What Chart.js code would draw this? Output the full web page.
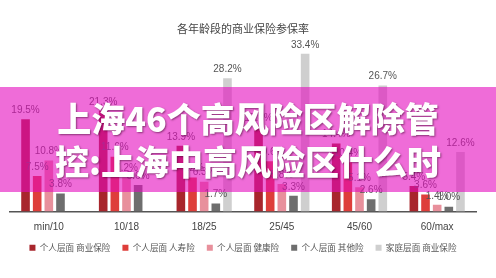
<!DOCTYPE html>
<html>
<head>
<meta charset="utf-8">
<script src="https://cdn.jsdelivr.net/npm/chart.js@4.4.1/dist/chart.umd.min.js"></script>
<style>
    html, body { margin: 0; padding: 0; background: #ffffff; }
    #wrap { position: relative; width: 496px; height: 278px; overflow: hidden; }
    #banner {
        position: absolute; left: 0; top: 87px; width: 496px; height: 105px;
        background: rgba(228, 10, 190, 0.6);
        color: #ffffff; text-align: center;
        font-family: "Noto Sans CJK SC", sans-serif; font-weight: 900;
        font-size: 34px; line-height: 43px; padding-top: 9px; box-sizing: border-box;
        text-shadow: 1px 1px 2px rgba(60, 0, 40, 0.55);
    }
</style>
</head>
<body>
<div id="wrap">
    <canvas id="myChart" width="496" height="278"></canvas>
    <div id="banner">上海46个高风险区解除管<br>控:上海中高风险区什么时</div>
</div>
<script>
window.onload = init;
var chart;

var ageGroups = ['min/10', '10/18', '18/25', '25/45', '45/60', '60/max'];
var seriesNames = ['个人层面 商业保险', '个人层面 人寿险', '个人层面 健康险', '个人层面 其他险', '家庭层面 商业保险'];
var personalCommercial = [19.5, 21.3, 13.9, 17.8, 14.4, 5.4];
var personalLife = [7.5, 11.6, 7.2, 10.6, 10.4, 3.6];
var personalHealth = [10.8, 7.2, 6.3, 5.8, 5.1, 1.4];
var personalOther = [3.8, 5.6, 1.7, 3.3, 2.6, 1.0];
var familyCommercial = [null, null, 28.2, 33.4, 26.7, 12.6];
var seriesColors = ['#a8262c', '#de3e3a', '#e8909c', '#6e6e6e', '#cfcfcf'];
var chartTitle = '各年龄段的商业保险参保率';

var latinFont = '"Liberation Sans", Arial, sans-serif';
var cjkFont = '"Noto Sans CJK SC", "Liberation Sans", sans-serif';

// draws the "xx.x%" labels above every bar
var valueLabels = {
    id: 'valueLabels',
    afterDatasetsDraw: function(c) {
        var ctx = c.ctx;
        ctx.save();
        ctx.font = '10px ' + latinFont;
        ctx.fillStyle = '#555555';
        ctx.textAlign = 'center';
        ctx.textBaseline = 'middle';
        c.data.datasets.forEach(function(ds, i) {
            var meta = c.getDatasetMeta(i);
            meta.data.forEach(function(bar, j) {
                if (ds.data[j] === null) return;
                ctx.fillText(ds.data[j].toFixed(1) + '%', bar.x, bar.y - 9);
            });
        });
        ctx.restore();
    }
};

function showChart() {
    var allSeries = [personalCommercial, personalLife, personalHealth, personalOther, familyCommercial];
    var datasets = allSeries.map(function(values, i) {
        return {
            label: seriesNames[i],
            data: values,
            backgroundColor: seriesColors[i],
            categoryPercentage: 0.75,
            barPercentage: 0.74
        };
    });
    chart = new Chart(document.getElementById('myChart'), {
        type: 'bar',
        data: { labels: ageGroups, datasets: datasets },
        plugins: [valueLabels],
        options: {
            responsive: false,
            animation: false,
            layout: { padding: { left: 10, right: 20, top: 20, bottom: 16 } },
            plugins: {
                title: {
                    display: true,
                    text: chartTitle,
                    color: '#444444',
                    font: { family: cjkFont, size: 11, weight: 'normal' },
                    padding: { top: 2, bottom: 11 }
                },
                legend: {
                    position: 'bottom',
                    labels: {
                        boxWidth: 6,
                        boxHeight: 6,
                        padding: 12,
                        color: '#555555',
                        font: { family: cjkFont, size: 8.6 }
                    }
                },
                tooltip: { enabled: false }
            },
            scales: {
                x: {
                    grid: { display: false },
                    border: { display: true, color: '#555555', width: 1.5 },
                    ticks: { color: '#444444', font: { family: latinFont, size: 10 }, padding: 2 },
                    afterFit: function(scale) { scale.height -= 4; }
                },
                y: {
                    display: false,
                    min: 0,
                    max: 35
                }
            }
        }
    });
}

function init() {
    showChart();
}
</script>
</body>
</html>
